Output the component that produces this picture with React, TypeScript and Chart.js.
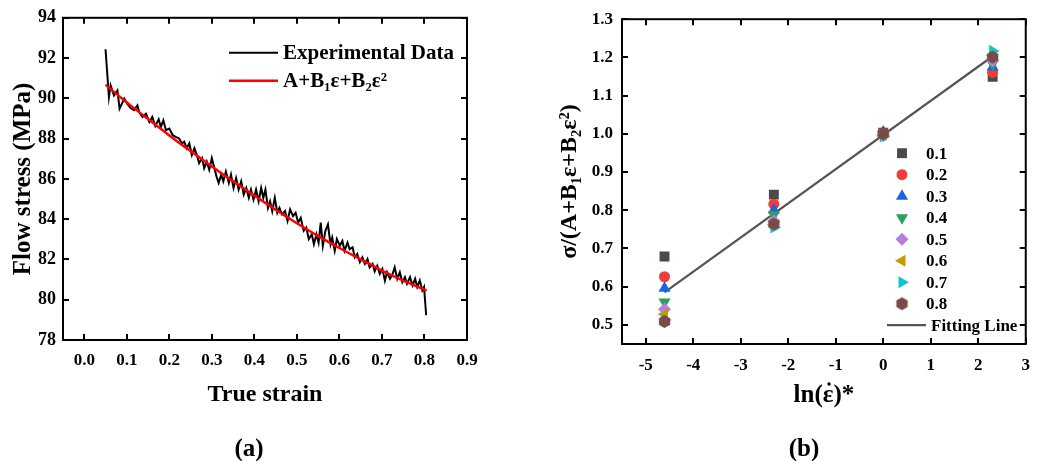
import React, { useEffect, useRef } from 'react';
import { Chart, registerables, PointElement } from 'chart.js';

Chart.register(...registerables);

const FONT = '"Times New Roman", "Liberation Serif", "DejaVu Serif", serif';

// ---------- Panel (a) data ----------
const strainExp = [
  0.050, 0.058, 0.062, 0.070, 0.078, 0.083, 0.094, 0.101, 0.109, 0.117,
  0.125, 0.129, 0.137, 0.145, 0.153, 0.160, 0.167, 0.175, 0.180, 0.186,
  0.192, 0.200, 0.208, 0.215, 0.223, 0.230, 0.235, 0.241, 0.247, 0.253,
  0.259, 0.267, 0.270, 0.277, 0.282, 0.288, 0.294, 0.300, 0.306, 0.311,
  0.316, 0.322, 0.327, 0.333, 0.340, 0.345, 0.351, 0.357, 0.363, 0.369,
  0.375, 0.381, 0.387, 0.392, 0.398, 0.404, 0.410, 0.416, 0.421, 0.426,
  0.432, 0.437, 0.442, 0.448, 0.454, 0.459, 0.465, 0.472, 0.478, 0.484,
  0.491, 0.497, 0.503, 0.509, 0.516, 0.522, 0.528, 0.535, 0.540, 0.546,
  0.551, 0.556, 0.561, 0.567, 0.573, 0.579, 0.583, 0.589, 0.594, 0.601,
  0.607, 0.612, 0.619, 0.624, 0.631, 0.636, 0.642, 0.648, 0.654, 0.660,
  0.666, 0.671, 0.678, 0.683, 0.689, 0.695, 0.701, 0.707, 0.712, 0.719,
  0.725, 0.730, 0.736, 0.742, 0.748, 0.754, 0.759, 0.766, 0.772, 0.778,
  0.783, 0.789, 0.795, 0.799, 0.804,
];
const stressExp = [
  92.44, 90.06, 90.64, 90.14, 90.39, 89.49, 89.98, 89.73, 89.52, 89.41,
  89.65, 89.32, 89.08, 89.24, 88.83, 89.08, 88.63, 88.96, 88.58, 88.91,
  88.42, 88.50, 88.17, 88.09, 88.01, 87.76, 87.85, 87.52, 87.76, 87.19,
  87.52, 87.03, 86.78, 87.03, 86.53, 86.86, 86.45, 87.03, 86.53, 86.12,
  85.80, 86.21, 85.88, 86.37, 85.80, 86.21, 85.55, 86.04, 85.47, 85.88,
  85.22, 85.55, 85.06, 85.47, 84.97, 85.47, 84.89, 85.55, 85.06, 85.47,
  84.56, 84.89, 84.40, 85.06, 84.32, 84.56, 84.24, 84.40, 83.91, 84.48,
  84.15, 84.32, 83.83, 84.07, 83.42, 83.58, 83.01, 83.25, 82.76, 83.25,
  82.84, 83.83, 82.68, 83.42, 83.74, 82.76, 83.09, 82.43, 83.01, 82.68,
  82.92, 82.43, 82.84, 82.51, 82.60, 82.10, 82.27, 81.86, 82.10, 81.78,
  82.02, 81.61, 81.78, 81.41, 81.69, 81.28, 81.53, 80.95, 81.36, 81.04,
  81.28, 81.61, 81.04, 81.36, 80.87, 81.12, 80.79, 81.12, 80.71, 81.04,
  80.63, 80.95, 80.46, 80.63, 79.23,
];
const strainFit = [0.05, 0.10, 0.15, 0.20, 0.25, 0.30, 0.35, 0.40, 0.45, 0.50, 0.55, 0.60, 0.65, 0.70, 0.75, 0.80, 0.805];
const stressFit = [90.67, 89.80, 88.97, 88.16, 87.38, 86.62, 85.88, 85.17, 84.47, 83.80, 83.16, 82.57, 82.00, 81.45, 80.95, 80.50, 80.46];

// ---------- Panel (b) data ----------
const lnRate = [-4.605, -2.303, 0, 2.303];
const strainLevels = ['0.1', '0.2', '0.3', '0.4', '0.5', '0.6', '0.7', '0.8'];
const ratio01 = [0.679, 0.841, 1.003, 1.149];
const ratio02 = [0.626, 0.816, 1.003, 1.161];
const ratio03 = [0.596, 0.801, 1.005, 1.175];
const ratio04 = [0.560, 0.788, 0.998, 1.183];
const ratio05 = [0.541, 0.771, 0.995, 1.191];
const ratio06 = [0.528, 0.762, 0.997, 1.205];
const ratio07 = [0.513, 0.755, 0.993, 1.217];
const ratio08 = [0.509, 0.764, 1.000, 1.201];
const ratioSeries = [ratio01, ratio02, ratio03, ratio04, ratio05, ratio06, ratio07, ratio08];
const fitLineX = [-4.605, 2.303];
const fitLineY = [0.585, 1.203];

const markerColors = ['#4a4a4a', '#f23c3c', '#1a64e0', '#2e9e62', '#b57ee0', '#c99a00', '#12c6cf', '#7a4a44'];

const tickFont = (size: number) => ({ family: FONT, size, weight: 'bold' as const });

function makeHexagon(color: string, r: number) {
  const c = document.createElement('canvas');
  const s = Math.ceil(2 * r + 2);
  c.width = s;
  c.height = s;
  const g = c.getContext('2d')!;
  g.fillStyle = color;
  g.beginPath();
  for (let k = 0; k < 6; k++) {
    const ang = Math.PI / 2 + (k * Math.PI) / 3;
    const px = s / 2 + r * Math.cos(ang);
    const py = s / 2 + r * Math.sin(ang);
    if (k === 0) g.moveTo(px, py);
    else g.lineTo(px, py);
  }
  g.closePath();
  g.fill();
  return c;
}

const frameTicksPlugin = {
  id: 'frameTicks',
  afterDatasetsDraw(chart: any, _args: any, opts: any) {
    const { ctx, chartArea: a, scales } = chart;
    const len = opts.len ?? 6;
    ctx.save();
    ctx.strokeStyle = '#000';
    ctx.lineWidth = 2;
    ctx.beginPath();
    for (const t of scales.x.ticks) {
      const px = Math.round(scales.x.getPixelForValue(t.value));
      ctx.moveTo(px, a.bottom);
      ctx.lineTo(px, a.bottom - len);
      ctx.moveTo(px, a.top);
      ctx.lineTo(px, a.top + len);
    }
    for (const t of scales.y.ticks) {
      const py = Math.round(scales.y.getPixelForValue(t.value));
      ctx.moveTo(a.left, py);
      ctx.lineTo(a.left + len, py);
      ctx.moveTo(a.right, py);
      ctx.lineTo(a.right - len, py);
    }
    ctx.stroke();
    ctx.strokeRect(a.left, a.top, a.right - a.left, a.bottom - a.top);
    ctx.restore();
  },
};

const lineLegendPlugin = {
  id: 'lineLegend',
  afterDraw(chart: any, _args: any, opts: any) {
    const { ctx, chartArea: a } = chart;
    ctx.save();
    ctx.font = `bold ${opts.size}px ${FONT}`;
    ctx.textBaseline = 'middle';
    ctx.textAlign = 'left';
    ctx.fillStyle = '#000';
    chart.data.datasets.forEach((ds: any, i: number) => {
      const y = a.top + opts.top + i * opts.gap;
      const x0 = a.left + opts.left;
      ctx.strokeStyle = ds.borderColor;
      ctx.lineWidth = ds.borderWidth;
      ctx.beginPath();
      ctx.moveTo(x0, y);
      ctx.lineTo(x0 + opts.len, y);
      ctx.stroke();
      ctx.fillText(ds.label, x0 + opts.len + opts.textGap, y + 1);
    });
    ctx.restore();
  },
};

const markerLegendPlugin = {
  id: 'markerLegend',
  afterDraw(chart: any, _args: any, opts: any) {
    const { ctx, chartArea: a } = chart;
    ctx.save();
    ctx.font = `bold ${opts.size}px ${FONT}`;
    ctx.textBaseline = 'middle';
    ctx.textAlign = 'left';
    chart.data.datasets.forEach((ds: any, i: number) => {
      const y = a.top + opts.top + i * opts.gap;
      const mx = a.left + opts.left;
      if (ds.showLine) {
        ctx.strokeStyle = ds.borderColor;
        ctx.lineWidth = ds.borderWidth;
        ctx.beginPath();
        ctx.moveTo(mx - 15, y);
        ctx.lineTo(mx + 24, y);
        ctx.stroke();
        ctx.fillStyle = '#000';
        ctx.fillText(ds.label, mx + 29, y + 1);
      } else {
        const pe: any = new PointElement({} as any);
        pe.x = mx;
        pe.y = y;
        pe.options = {
          pointStyle: ds.pointStyle,
          rotation: ds.pointRotation || 0,
          radius: ds.pointRadius,
          borderWidth: 0,
          backgroundColor: ds.pointBackgroundColor,
          borderColor: ds.pointBackgroundColor,
        };
        pe.draw(ctx, a);
        ctx.fillStyle = '#000';
        ctx.fillText(ds.label, a.left + opts.textLeft, y + 1);
      }
    });
    ctx.restore();
  },
};

// Puts the rate dot over the epsilon of the x-axis title "ln(ε)*"
const rateDotPlugin = {
  id: 'rateDot',
  afterDraw(chart: any, _args: any, opts: any) {
    const s = chart.scales.x;
    const t = s.options.title;
    if (!t || !t.display) return;
    const { ctx } = chart;
    const size = t.font.size;
    const lineHeight = size * 1.2;
    ctx.save();
    ctx.font = `bold ${size}px ${FONT}`;
    const text = String(t.text);
    const full = ctx.measureText(text).width;
    const cx = (s.left + s.right) / 2;
    const start = cx - full / 2;
    const idx = text.indexOf(opts.char);
    const before = ctx.measureText(text.slice(0, idx)).width;
    const w = ctx.measureText(opts.char).width;
    const ty = s.bottom - (lineHeight / 2 + t.padding.bottom);
    ctx.fillStyle = '#000';
    ctx.beginPath();
    ctx.arc(start + before + w / 2 + 1, ty - opts.rise, opts.r, 0, Math.PI * 2);
    ctx.fill();
    ctx.restore();
  },
};

function StrainChart() {
  const ref = useRef<HTMLCanvasElement | null>(null);
  useEffect(() => {
    if (!ref.current) return;
    const chart = new Chart(ref.current, {
      type: 'scatter',
      data: {
        datasets: [
          {
            label: 'Experimental Data',
            data: strainExp.map((x, i) => ({ x, y: stressExp[i] })),
            showLine: true,
            borderColor: '#000',
            backgroundColor: '#000',
            borderWidth: 2,
            pointRadius: 0,
            tension: 0,
            order: 1,
          },
          {
            label: 'A+B\u2081\u03b5+B\u2082\u03b5\u00b2',
            data: strainFit.map((x, i) => ({ x, y: stressFit[i] })),
            showLine: true,
            borderColor: '#ff0000',
            backgroundColor: '#ff0000',
            borderWidth: 2.5,
            pointRadius: 0,
            tension: 0.3,
            order: 0,
          },
        ],
      },
      options: {
        responsive: false,
        animation: false,
        devicePixelRatio: 1,
        layout: { padding: { left: 0, top: 15, right: 23, bottom: 0 } },
        plugins: {
          legend: { display: false },
          tooltip: { enabled: false },
          frameTicks: { len: 6 },
          lineLegend: { size: 21, left: 166, top: 35, gap: 28, len: 49, textGap: 5 },
        } as any,
        scales: {
          x: {
            type: 'linear',
            min: -0.05,
            max: 0.9,
            afterFit: (s: any) => { s.height = 121; },
            grid: { display: false, drawTicks: false },
            border: { display: false },
            ticks: {
              stepSize: 0.1,
              includeBounds: false,
              autoSkip: false,
              maxRotation: 0,
              padding: 10,
              color: '#000',
              font: tickFont(17),
              callback: (v: any) => Number(v).toFixed(1),
            },
            title: {
              display: true,
              text: 'True strain',
              color: '#000',
              font: { family: FONT, size: 24, weight: 'bold' },
              padding: { top: 0, bottom: 52 },
            },
          },
          y: {
            type: 'linear',
            min: 78,
            max: 94,
            afterFit: (s: any) => { s.width = 63; },
            grid: { display: false, drawTicks: false },
            border: { display: false },
            ticks: {
              stepSize: 2,
              autoSkip: false,
              padding: 7,
              color: '#000',
              font: tickFont(18),
              callback: (v: any) => String(Math.round(Number(v))),
            },
            title: {
              display: true,
              text: 'Flow stress (MPa)',
              color: '#000',
              font: { family: FONT, size: 25, weight: 'bold' },
              padding: { top: 9, bottom: 0 },
            },
          },
        },
      } as any,
      plugins: [frameTicksPlugin, lineLegendPlugin],
    });
    return () => chart.destroy();
  }, []);
  return (
    <canvas
      ref={ref}
      width={490}
      height={461}
      style={{ position: 'absolute', left: 0, top: 0, width: 490, height: 461 }}
    />
  );
}

function RatioChart() {
  const ref = useRef<HTMLCanvasElement | null>(null);
  useEffect(() => {
    if (!ref.current) return;
    const hex = makeHexagon(markerColors[7], 6.5);
    const styles: any[] = ['rect', 'circle', 'triangle', 'triangle', 'rectRot', 'triangle', 'triangle', hex];
    const rotations = [0, 0, 0, 180, 0, 270, 90, 0];
    const radii = [7, 5.5, 7, 7, 6.5, 7, 7, 6.5];
    const pointSets = ratioSeries.map((vals, k) => ({
      label: strainLevels[k],
      data: lnRate.map((x, i) => ({ x, y: vals[i] })),
      showLine: false,
      pointStyle: styles[k],
      pointRotation: rotations[k],
      pointRadius: radii[k],
      pointBorderWidth: 0,
      pointBackgroundColor: markerColors[k],
      pointBorderColor: markerColors[k],
      backgroundColor: markerColors[k],
      borderColor: markerColors[k],
      order: 8 - k,
    }));
    const chart = new Chart(ref.current, {
      type: 'scatter',
      data: {
        datasets: [
          ...pointSets,
          {
            label: 'Fitting Line',
            data: fitLineX.map((x, i) => ({ x, y: fitLineY[i] })),
            showLine: true,
            borderColor: '#555555',
            backgroundColor: '#555555',
            borderWidth: 2.2,
            pointRadius: 0,
            order: 20,
          },
        ] as any,
      },
      options: {
        responsive: false,
        animation: false,
        devicePixelRatio: 1,
        layout: { padding: { left: 0, top: 15, right: 9, bottom: 0 } },
        plugins: {
          legend: { display: false },
          tooltip: { enabled: false },
          frameTicks: { len: 6 },
          markerLegend: { size: 17, left: 280, textLeft: 304, top: 134, gap: 21.5 },
          rateDot: { char: '\u03b5', rise: 12, r: 1.7 },
        } as any,
        scales: {
          x: {
            type: 'linear',
            min: -5.5,
            max: 3,
            afterFit: (s: any) => { s.height = 117; },
            grid: { display: false, drawTicks: false },
            border: { display: false },
            ticks: {
              stepSize: 1,
              includeBounds: false,
              autoSkip: false,
              maxRotation: 0,
              padding: 11,
              color: '#000',
              font: tickFont(17),
              callback: (v: any) => String(Math.round(Number(v))),
            },
            title: {
              display: true,
              text: 'ln(\u03b5)*',
              color: '#000',
              font: { family: FONT, size: 25, weight: 'bold' },
              padding: { top: 0, bottom: 50 },
            },
          },
          y: {
            type: 'linear',
            min: 0.45,
            max: 1.3,
            afterFit: (s: any) => { s.width = 92; },
            grid: { display: false, drawTicks: false },
            border: { display: false },
            ticks: {
              stepSize: 0.1,
              includeBounds: false,
              autoSkip: false,
              padding: 9,
              color: '#000',
              font: tickFont(17),
              callback: (v: any) => Number(v).toFixed(1),
            },
            title: {
              display: true,
              text: '\u03c3/(A+B\u2081\u03b5+B\u2082\u03b5\u00b2)',
              color: '#000',
              font: { family: FONT, size: 24, weight: 'bold' },
              padding: { top: 25, bottom: 0 },
            },
          },
        },
      } as any,
      plugins: [frameTicksPlugin, markerLegendPlugin, rateDotPlugin],
    });
    return () => chart.destroy();
  }, []);
  return (
    <canvas
      ref={ref}
      width={511}
      height={461}
      style={{ position: 'absolute', left: 530, top: 0, width: 511, height: 461 }}
    />
  );
}

const panelLabel: React.CSSProperties = {
  position: 'absolute',
  top: 435,
  transform: 'translateX(-50%)',
  fontFamily: FONT,
  fontWeight: 'bold',
  fontSize: 25,
  lineHeight: '26px',
  color: '#000',
  whiteSpace: 'nowrap',
};

export default function App() {
  return (
    <div
      style={{
        position: 'absolute',
        left: 0,
        top: 0,
        width: 1041,
        height: 461,
        background: '#fff',
        overflow: 'hidden',
      }}
    >
      <StrainChart />
      <RatioChart />
      <div style={{ ...panelLabel, left: 249 }}>(a)</div>
      <div style={{ ...panelLabel, left: 804 }}>(b)</div>
    </div>
  );
}
